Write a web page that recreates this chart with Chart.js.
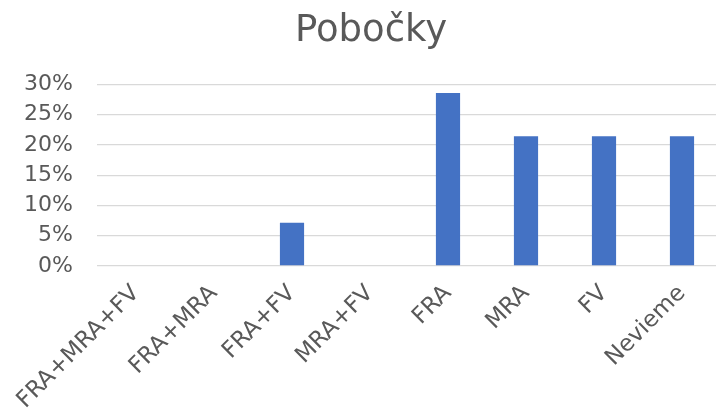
<!DOCTYPE html>
<html>
<head>
<meta charset="utf-8">
<script src="https://cdn.jsdelivr.net/npm/chart.js@4/dist/chart.umd.min.js"></script>
<style>
    html, body { margin: 0; padding: 0; background: #fff; overflow: hidden; }
    #wrap { position: relative; width: 742px; height: 415px; }
</style>
</head>
<body>
<div id="wrap"><canvas id="chartPobocky"></canvas></div>
<script>
// Hodnoty odčítané z grafu (podiel odpovedí v %)
var categories = ['FRA+MRA+FV', 'FRA+MRA', 'FRA+FV', 'MRA+FV', 'FRA', 'MRA', 'FV', 'Nevieme'];
var shares = [0, 0, 7.14, 0, 28.57, 21.43, 21.43, 21.43];
var yTicks = [0, 5, 10, 15, 20, 25, 30];

(function () {
    var textColor = '#595959';
    var fontFamily = '"DejaVu Sans", Verdana, sans-serif';

    var el = document.getElementById('chartPobocky');

    new Chart(el, {
        type: 'bar',
        data: {
            labels: categories,
            datasets: [{
                label: 'Pobočky',
                data: shares,
                backgroundColor: '#4472c4',
                borderWidth: 0,
                barPercentage: 0.31,
                categoryPercentage: 1
            }]
        },
        options: {
            responsive: true,
            maintainAspectRatio: false,
            animation: false,
            layout: {
                padding: { left: 21, right: 21, top: 0, bottom: 0 }
            },
            scales: {
                x: {
                    grid: { display: false, drawTicks: false },
                    border: { display: false },
                    ticks: {
                        color: textColor,
                        font: { family: fontFamily, size: 23 },
                        maxRotation: 45,
                        minRotation: 45,
                        padding: 14,
                        autoSkip: false
                    },
                    afterFit: function (scale) { scale.height = 149; }
                },
                y: {
                    min: yTicks[0],
                    max: yTicks[yTicks.length - 1],
                    grid: { color: '#d9d9d9', lineWidth: 1.3, drawTicks: false },
                    border: { display: false },
                    ticks: {
                        stepSize: yTicks[1] - yTicks[0],
                        color: textColor,
                        font: { family: fontFamily, size: 22 },
                        padding: 24,
                        callback: function (v) { return v + '%'; }
                    },
                    afterFit: function (scale) { scale.width = 76; }
                }
            },
            plugins: {
                legend: { display: false },
                tooltip: { enabled: false },
                title: {
                    display: true,
                    text: 'Pobočky',
                    color: textColor,
                    font: { family: fontFamily, size: 37, weight: 'normal' },
                    padding: { top: 9, bottom: 31 }
                }
            }
        }
    });
})();
</script>
</body>
</html>
